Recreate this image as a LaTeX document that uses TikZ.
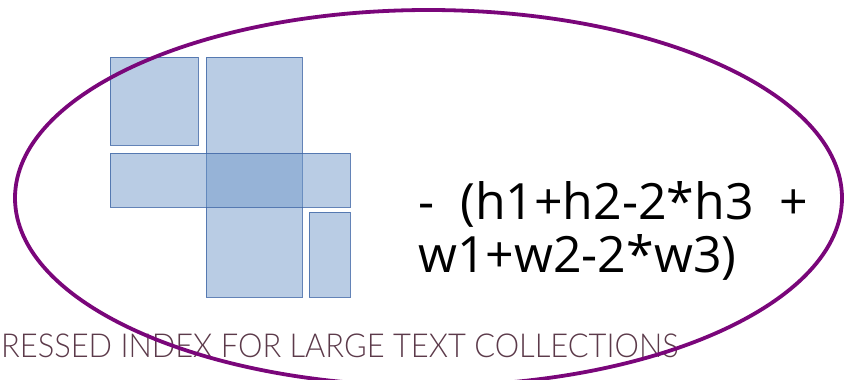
\documentclass[tikz,border=0pt]{standalone}
\usepackage{fontspec}
\usepackage{graphicx}
\setmainfont{Open Sans}
\newfontfamily\lightfont{Lato Light}
\definecolor{boxfill}{RGB}{115,154,202}
\definecolor{boxline}{RGB}{60,100,165}
\definecolor{ringcol}{RGB}{122,6,122}
\definecolor{titlecol}{RGB}{92,58,74}
\tikzset{
  panel/.style={fill=boxfill, fill opacity=0.5, draw=boxline, draw opacity=0.8, line width=1pt},
  ring/.style={draw=ringcol, line width=3.8pt},
  formula/.style={font=\fontsize{50}{53}\selectfont, anchor=base west, inner sep=0pt, align=left},
  title/.style={font=\lightfont\fontsize{33}{36}\selectfont, text=titlecol, anchor=base west, inner sep=0pt}
}
\begin{document}
\begin{tikzpicture}[x=1pt,y=-1pt]
\useasboundingbox (0,0) rectangle (847,380);
\clip (0,0) rectangle (847,380);
\path[panel] (110,57) rectangle (198,145);
\path[panel] (206,57) rectangle (302,297);
\path[panel] (110,153) rectangle (350,207);
\path[panel] (309,212) rectangle (350,297);
\node[formula] (f1) at (418,219) {-\ \ (h1+h2-2*h3\ \ +};
\node[formula] (f2) at (418,272) {w1+w2-2*w3)};
\node[title] (t) at (1,357) {\scalebox{0.935}[1]{RESSED INDEX FOR LARGE TEXT COLLECTIONS}};
\draw[ring] (428.5,198) ellipse [x radius=413.5, y radius=188];
\end{tikzpicture}
\end{document}
